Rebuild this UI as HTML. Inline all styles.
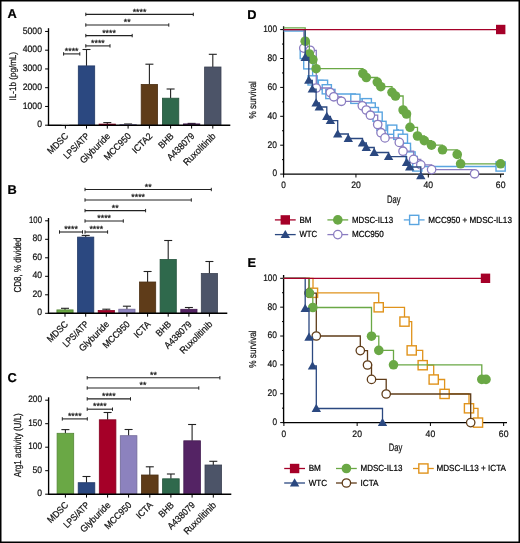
<!DOCTYPE html>
<html><head><meta charset="utf-8"><style>
html,body{margin:0;padding:0;background:#fff;}
svg{display:block;will-change:transform;}
text{font-family:"Liberation Sans", sans-serif;text-rendering:geometricPrecision;stroke:currentColor;stroke-width:0.22px;}
</style></head><body>
<svg width="520" height="543" viewBox="0 0 520 543" font-family='"Liberation Sans", sans-serif'>
<rect x="0.00" y="0.00" width="520.00" height="543.00" fill="#fff" stroke="none" stroke-width="0"/>
<line x1="45.10" y1="125.20" x2="48.50" y2="125.20" stroke="#000" stroke-width="1.0"/>
<text x="42.00" y="127.35" font-size="9.4" text-anchor="end" font-weight="normal" fill="#111" color="#111" textLength="4.8" lengthAdjust="spacingAndGlyphs" >0</text>
<line x1="45.10" y1="106.45" x2="48.50" y2="106.45" stroke="#000" stroke-width="1.0"/>
<text x="42.00" y="108.60" font-size="9.4" text-anchor="end" font-weight="normal" fill="#111" color="#111" textLength="19.3" lengthAdjust="spacingAndGlyphs" >1000</text>
<line x1="45.10" y1="87.70" x2="48.50" y2="87.70" stroke="#000" stroke-width="1.0"/>
<text x="42.00" y="89.85" font-size="9.4" text-anchor="end" font-weight="normal" fill="#111" color="#111" textLength="19.3" lengthAdjust="spacingAndGlyphs" >2000</text>
<line x1="45.10" y1="68.95" x2="48.50" y2="68.95" stroke="#000" stroke-width="1.0"/>
<text x="42.00" y="71.10" font-size="9.4" text-anchor="end" font-weight="normal" fill="#111" color="#111" textLength="19.3" lengthAdjust="spacingAndGlyphs" >3000</text>
<line x1="45.10" y1="50.20" x2="48.50" y2="50.20" stroke="#000" stroke-width="1.0"/>
<text x="42.00" y="52.35" font-size="9.4" text-anchor="end" font-weight="normal" fill="#111" color="#111" textLength="19.3" lengthAdjust="spacingAndGlyphs" >4000</text>
<line x1="45.10" y1="31.45" x2="48.50" y2="31.45" stroke="#000" stroke-width="1.0"/>
<text x="42.00" y="33.60" font-size="9.4" text-anchor="end" font-weight="normal" fill="#111" color="#111" textLength="19.3" lengthAdjust="spacingAndGlyphs" >5000</text>
<line x1="65.40" y1="125.20" x2="65.40" y2="128.60" stroke="#000" stroke-width="1.0"/>
<text x="69.00" y="136.70" font-size="9.4" text-anchor="end" font-weight="normal" fill="#111" color="#111" transform="rotate(-45 69.00 136.70)" textLength="25.3" lengthAdjust="spacingAndGlyphs" >MDSC</text>
<line x1="86.50" y1="49.50" x2="86.50" y2="65.90" stroke="#222" stroke-width="1.1"/>
<line x1="82.50" y1="49.50" x2="90.50" y2="49.50" stroke="#222" stroke-width="1.1"/>
<rect x="78.30" y="65.90" width="16.40" height="58.90" fill="#2b4880" stroke="#223966" stroke-width="0.8"/>
<line x1="86.50" y1="125.20" x2="86.50" y2="128.60" stroke="#000" stroke-width="1.0"/>
<text x="90.10" y="136.70" font-size="9.4" text-anchor="end" font-weight="normal" fill="#111" color="#111" transform="rotate(-45 90.10 136.70)" textLength="32.3" lengthAdjust="spacingAndGlyphs" >LPS/ATP</text>
<line x1="107.30" y1="122.60" x2="107.30" y2="124.10" stroke="#222" stroke-width="1.1"/>
<line x1="103.30" y1="122.60" x2="111.30" y2="122.60" stroke="#222" stroke-width="1.1"/>
<rect x="99.10" y="124.10" width="16.40" height="0.70" fill="#a50028" stroke="#840020" stroke-width="0.8"/>
<line x1="107.30" y1="125.20" x2="107.30" y2="128.60" stroke="#000" stroke-width="1.0"/>
<text x="110.90" y="136.70" font-size="9.4" text-anchor="end" font-weight="normal" fill="#111" color="#111" transform="rotate(-45 110.90 136.70)" textLength="38.5" lengthAdjust="spacingAndGlyphs" >Glyburide</text>
<line x1="128.10" y1="124.00" x2="128.10" y2="124.60" stroke="#222" stroke-width="1.1"/>
<line x1="124.10" y1="124.00" x2="132.10" y2="124.00" stroke="#222" stroke-width="1.1"/>
<rect x="119.90" y="124.60" width="16.40" height="0.20" fill="#8c82be" stroke="#706898" stroke-width="0.8"/>
<line x1="128.10" y1="125.20" x2="128.10" y2="128.60" stroke="#000" stroke-width="1.0"/>
<text x="131.70" y="136.70" font-size="9.4" text-anchor="end" font-weight="normal" fill="#111" color="#111" transform="rotate(-45 131.70 136.70)" textLength="34.0" lengthAdjust="spacingAndGlyphs" >MCC950</text>
<line x1="149.40" y1="64.20" x2="149.40" y2="84.40" stroke="#222" stroke-width="1.1"/>
<line x1="145.40" y1="64.20" x2="153.40" y2="64.20" stroke="#222" stroke-width="1.1"/>
<rect x="141.20" y="84.40" width="16.40" height="40.40" fill="#5f3c19" stroke="#4c3014" stroke-width="0.8"/>
<line x1="149.40" y1="125.20" x2="149.40" y2="128.60" stroke="#000" stroke-width="1.0"/>
<text x="153.00" y="136.70" font-size="9.4" text-anchor="end" font-weight="normal" fill="#111" color="#111" transform="rotate(-45 153.00 136.70)" textLength="24.3" lengthAdjust="spacingAndGlyphs" >ICTA2</text>
<line x1="170.60" y1="89.00" x2="170.60" y2="98.20" stroke="#222" stroke-width="1.1"/>
<line x1="166.60" y1="89.00" x2="174.60" y2="89.00" stroke="#222" stroke-width="1.1"/>
<rect x="162.40" y="98.20" width="16.40" height="26.60" fill="#2f694c" stroke="#25543c" stroke-width="0.8"/>
<line x1="170.60" y1="125.20" x2="170.60" y2="128.60" stroke="#000" stroke-width="1.0"/>
<text x="174.20" y="136.70" font-size="9.4" text-anchor="end" font-weight="normal" fill="#111" color="#111" transform="rotate(-45 174.20 136.70)" textLength="17.3" lengthAdjust="spacingAndGlyphs" >BHB</text>
<line x1="191.60" y1="123.40" x2="191.60" y2="123.90" stroke="#222" stroke-width="1.1"/>
<line x1="187.60" y1="123.40" x2="195.60" y2="123.40" stroke="#222" stroke-width="1.1"/>
<rect x="183.40" y="123.90" width="16.40" height="0.90" fill="#542364" stroke="#431c50" stroke-width="0.8"/>
<line x1="191.60" y1="125.20" x2="191.60" y2="128.60" stroke="#000" stroke-width="1.0"/>
<text x="195.20" y="136.70" font-size="9.4" text-anchor="end" font-weight="normal" fill="#111" color="#111" transform="rotate(-45 195.20 136.70)" textLength="34.5" lengthAdjust="spacingAndGlyphs" >A438079</text>
<line x1="212.80" y1="54.30" x2="212.80" y2="67.00" stroke="#222" stroke-width="1.1"/>
<line x1="208.80" y1="54.30" x2="216.80" y2="54.30" stroke="#222" stroke-width="1.1"/>
<rect x="204.60" y="67.00" width="16.40" height="57.80" fill="#4c5468" stroke="#3c4353" stroke-width="0.8"/>
<line x1="212.80" y1="125.20" x2="212.80" y2="128.60" stroke="#000" stroke-width="1.0"/>
<text x="216.40" y="136.70" font-size="9.4" text-anchor="end" font-weight="normal" fill="#111" color="#111" transform="rotate(-45 216.40 136.70)" textLength="41.6" lengthAdjust="spacingAndGlyphs" >Ruxolitinib</text>
<line x1="48.50" y1="28.20" x2="48.50" y2="125.80" stroke="#000" stroke-width="1.35"/>
<line x1="47.90" y1="125.20" x2="230.30" y2="125.20" stroke="#000" stroke-width="1.45"/>
<line x1="85.80" y1="14.40" x2="193.30" y2="14.40" stroke="#222" stroke-width="1.1"/>
<line x1="85.80" y1="12.70" x2="85.80" y2="16.10" stroke="#222" stroke-width="1.0"/>
<line x1="193.30" y1="12.70" x2="193.30" y2="16.10" stroke="#222" stroke-width="1.0"/>
<text x="139.55" y="14.50" font-size="8.8" text-anchor="middle" font-weight="normal" fill="#111" color="#111" >****</text>
<line x1="85.80" y1="25.00" x2="168.80" y2="25.00" stroke="#222" stroke-width="1.1"/>
<line x1="85.80" y1="23.30" x2="85.80" y2="26.70" stroke="#222" stroke-width="1.0"/>
<line x1="168.80" y1="23.30" x2="168.80" y2="26.70" stroke="#222" stroke-width="1.0"/>
<text x="127.30" y="25.10" font-size="8.8" text-anchor="middle" font-weight="normal" fill="#111" color="#111" >**</text>
<line x1="85.80" y1="35.60" x2="132.20" y2="35.60" stroke="#222" stroke-width="1.1"/>
<line x1="85.80" y1="33.90" x2="85.80" y2="37.30" stroke="#222" stroke-width="1.0"/>
<line x1="132.20" y1="33.90" x2="132.20" y2="37.30" stroke="#222" stroke-width="1.0"/>
<text x="109.00" y="35.70" font-size="8.8" text-anchor="middle" font-weight="normal" fill="#111" color="#111" >****</text>
<line x1="85.80" y1="45.90" x2="110.00" y2="45.90" stroke="#222" stroke-width="1.1"/>
<line x1="85.80" y1="44.20" x2="85.80" y2="47.60" stroke="#222" stroke-width="1.0"/>
<line x1="110.00" y1="44.20" x2="110.00" y2="47.60" stroke="#222" stroke-width="1.0"/>
<text x="97.90" y="46.00" font-size="8.8" text-anchor="middle" font-weight="normal" fill="#111" color="#111" >****</text>
<line x1="63.60" y1="53.90" x2="79.80" y2="53.90" stroke="#222" stroke-width="1.1"/>
<line x1="63.60" y1="52.20" x2="63.60" y2="55.60" stroke="#222" stroke-width="1.0"/>
<line x1="79.80" y1="52.20" x2="79.80" y2="55.60" stroke="#222" stroke-width="1.0"/>
<text x="71.70" y="54.00" font-size="8.8" text-anchor="middle" font-weight="normal" fill="#111" color="#111" >****</text>
<text x="16.20" y="76.20" font-size="9.6" text-anchor="middle" font-weight="normal" fill="#111" color="#111" transform="rotate(-90 16.20 76.20)" textLength="48.5" lengthAdjust="spacingAndGlyphs" >IL-1b (pg/mL)</text>
<text x="7.60" y="18.40" font-size="12.8" text-anchor="start" font-weight="bold" fill="#000" color="#000" >A</text>
<line x1="45.10" y1="313.30" x2="48.50" y2="313.30" stroke="#000" stroke-width="1.0"/>
<text x="42.00" y="315.45" font-size="9.4" text-anchor="end" font-weight="normal" fill="#111" color="#111" textLength="4.8" lengthAdjust="spacingAndGlyphs" >0</text>
<line x1="45.10" y1="294.80" x2="48.50" y2="294.80" stroke="#000" stroke-width="1.0"/>
<text x="42.00" y="296.95" font-size="9.4" text-anchor="end" font-weight="normal" fill="#111" color="#111" textLength="9.6" lengthAdjust="spacingAndGlyphs" >20</text>
<line x1="45.10" y1="276.30" x2="48.50" y2="276.30" stroke="#000" stroke-width="1.0"/>
<text x="42.00" y="278.45" font-size="9.4" text-anchor="end" font-weight="normal" fill="#111" color="#111" textLength="9.6" lengthAdjust="spacingAndGlyphs" >40</text>
<line x1="45.10" y1="257.80" x2="48.50" y2="257.80" stroke="#000" stroke-width="1.0"/>
<text x="42.00" y="259.95" font-size="9.4" text-anchor="end" font-weight="normal" fill="#111" color="#111" textLength="9.6" lengthAdjust="spacingAndGlyphs" >60</text>
<line x1="45.10" y1="239.30" x2="48.50" y2="239.30" stroke="#000" stroke-width="1.0"/>
<text x="42.00" y="241.45" font-size="9.4" text-anchor="end" font-weight="normal" fill="#111" color="#111" textLength="9.6" lengthAdjust="spacingAndGlyphs" >80</text>
<line x1="45.10" y1="220.80" x2="48.50" y2="220.80" stroke="#000" stroke-width="1.0"/>
<text x="42.00" y="222.95" font-size="9.4" text-anchor="end" font-weight="normal" fill="#111" color="#111" textLength="13.0" lengthAdjust="spacingAndGlyphs" >100</text>
<line x1="65.00" y1="308.30" x2="65.00" y2="309.90" stroke="#222" stroke-width="1.1"/>
<line x1="61.00" y1="308.30" x2="69.00" y2="308.30" stroke="#222" stroke-width="1.1"/>
<rect x="56.90" y="309.90" width="16.20" height="3.00" fill="#6aa845" stroke="#548637" stroke-width="0.8"/>
<line x1="65.00" y1="313.30" x2="65.00" y2="316.70" stroke="#000" stroke-width="1.0"/>
<text x="68.60" y="324.80" font-size="9.4" text-anchor="end" font-weight="normal" fill="#111" color="#111" transform="rotate(-45 68.60 324.80)" textLength="25.3" lengthAdjust="spacingAndGlyphs" >MDSC</text>
<line x1="85.70" y1="235.40" x2="85.70" y2="237.10" stroke="#222" stroke-width="1.1"/>
<line x1="81.70" y1="235.40" x2="89.70" y2="235.40" stroke="#222" stroke-width="1.1"/>
<rect x="77.60" y="237.10" width="16.20" height="75.80" fill="#2b4880" stroke="#223966" stroke-width="0.8"/>
<line x1="85.70" y1="313.30" x2="85.70" y2="316.70" stroke="#000" stroke-width="1.0"/>
<text x="89.30" y="324.80" font-size="9.4" text-anchor="end" font-weight="normal" fill="#111" color="#111" transform="rotate(-45 89.30 324.80)" textLength="32.3" lengthAdjust="spacingAndGlyphs" >LPS/ATP</text>
<line x1="106.30" y1="309.20" x2="106.30" y2="310.50" stroke="#222" stroke-width="1.1"/>
<line x1="102.30" y1="309.20" x2="110.30" y2="309.20" stroke="#222" stroke-width="1.1"/>
<rect x="98.20" y="310.50" width="16.20" height="2.40" fill="#a50028" stroke="#840020" stroke-width="0.8"/>
<line x1="106.30" y1="313.30" x2="106.30" y2="316.70" stroke="#000" stroke-width="1.0"/>
<text x="109.90" y="324.80" font-size="9.4" text-anchor="end" font-weight="normal" fill="#111" color="#111" transform="rotate(-45 109.90 324.80)" textLength="38.5" lengthAdjust="spacingAndGlyphs" >Glyburide</text>
<line x1="126.90" y1="306.20" x2="126.90" y2="309.20" stroke="#222" stroke-width="1.1"/>
<line x1="122.90" y1="306.20" x2="130.90" y2="306.20" stroke="#222" stroke-width="1.1"/>
<rect x="118.80" y="309.20" width="16.20" height="3.70" fill="#8c82be" stroke="#706898" stroke-width="0.8"/>
<line x1="126.90" y1="313.30" x2="126.90" y2="316.70" stroke="#000" stroke-width="1.0"/>
<text x="130.50" y="324.80" font-size="9.4" text-anchor="end" font-weight="normal" fill="#111" color="#111" transform="rotate(-45 130.50 324.80)" textLength="34.0" lengthAdjust="spacingAndGlyphs" >MCC950</text>
<line x1="147.60" y1="271.50" x2="147.60" y2="282.00" stroke="#222" stroke-width="1.1"/>
<line x1="143.60" y1="271.50" x2="151.60" y2="271.50" stroke="#222" stroke-width="1.1"/>
<rect x="139.50" y="282.00" width="16.20" height="30.90" fill="#5f3c19" stroke="#4c3014" stroke-width="0.8"/>
<line x1="147.60" y1="313.30" x2="147.60" y2="316.70" stroke="#000" stroke-width="1.0"/>
<text x="151.20" y="324.80" font-size="9.4" text-anchor="end" font-weight="normal" fill="#111" color="#111" transform="rotate(-45 151.20 324.80)" textLength="19.3" lengthAdjust="spacingAndGlyphs" >ICTA</text>
<line x1="168.20" y1="240.50" x2="168.20" y2="259.50" stroke="#222" stroke-width="1.1"/>
<line x1="164.20" y1="240.50" x2="172.20" y2="240.50" stroke="#222" stroke-width="1.1"/>
<rect x="160.10" y="259.50" width="16.20" height="53.40" fill="#2f694c" stroke="#25543c" stroke-width="0.8"/>
<line x1="168.20" y1="313.30" x2="168.20" y2="316.70" stroke="#000" stroke-width="1.0"/>
<text x="171.80" y="324.80" font-size="9.4" text-anchor="end" font-weight="normal" fill="#111" color="#111" transform="rotate(-45 171.80 324.80)" textLength="17.3" lengthAdjust="spacingAndGlyphs" >BHB</text>
<line x1="188.90" y1="307.50" x2="188.90" y2="309.30" stroke="#222" stroke-width="1.1"/>
<line x1="184.90" y1="307.50" x2="192.90" y2="307.50" stroke="#222" stroke-width="1.1"/>
<rect x="180.80" y="309.30" width="16.20" height="3.60" fill="#542364" stroke="#431c50" stroke-width="0.8"/>
<line x1="188.90" y1="313.30" x2="188.90" y2="316.70" stroke="#000" stroke-width="1.0"/>
<text x="192.50" y="324.80" font-size="9.4" text-anchor="end" font-weight="normal" fill="#111" color="#111" transform="rotate(-45 192.50 324.80)" textLength="34.5" lengthAdjust="spacingAndGlyphs" >A438079</text>
<line x1="209.40" y1="261.50" x2="209.40" y2="273.50" stroke="#222" stroke-width="1.1"/>
<line x1="205.40" y1="261.50" x2="213.40" y2="261.50" stroke="#222" stroke-width="1.1"/>
<rect x="201.30" y="273.50" width="16.20" height="39.40" fill="#4c5468" stroke="#3c4353" stroke-width="0.8"/>
<line x1="209.40" y1="313.30" x2="209.40" y2="316.70" stroke="#000" stroke-width="1.0"/>
<text x="213.00" y="324.80" font-size="9.4" text-anchor="end" font-weight="normal" fill="#111" color="#111" transform="rotate(-45 213.00 324.80)" textLength="41.6" lengthAdjust="spacingAndGlyphs" >Ruxolitinib</text>
<line x1="48.50" y1="218.00" x2="48.50" y2="313.90" stroke="#000" stroke-width="1.35"/>
<line x1="47.90" y1="313.30" x2="227.30" y2="313.30" stroke="#000" stroke-width="1.45"/>
<line x1="85.00" y1="189.50" x2="211.30" y2="189.50" stroke="#222" stroke-width="1.1"/>
<line x1="85.00" y1="187.80" x2="85.00" y2="191.20" stroke="#222" stroke-width="1.0"/>
<line x1="211.30" y1="187.80" x2="211.30" y2="191.20" stroke="#222" stroke-width="1.0"/>
<text x="148.15" y="189.60" font-size="8.8" text-anchor="middle" font-weight="normal" fill="#111" color="#111" >**</text>
<line x1="85.00" y1="200.00" x2="191.30" y2="200.00" stroke="#222" stroke-width="1.1"/>
<line x1="85.00" y1="198.30" x2="85.00" y2="201.70" stroke="#222" stroke-width="1.0"/>
<line x1="191.30" y1="198.30" x2="191.30" y2="201.70" stroke="#222" stroke-width="1.0"/>
<text x="138.15" y="200.10" font-size="8.8" text-anchor="middle" font-weight="normal" fill="#111" color="#111" >****</text>
<line x1="85.00" y1="210.60" x2="145.60" y2="210.60" stroke="#222" stroke-width="1.1"/>
<line x1="85.00" y1="208.90" x2="85.00" y2="212.30" stroke="#222" stroke-width="1.0"/>
<line x1="145.60" y1="208.90" x2="145.60" y2="212.30" stroke="#222" stroke-width="1.0"/>
<text x="115.30" y="210.70" font-size="8.8" text-anchor="middle" font-weight="normal" fill="#111" color="#111" >**</text>
<line x1="85.00" y1="221.00" x2="123.30" y2="221.00" stroke="#222" stroke-width="1.1"/>
<line x1="85.00" y1="219.30" x2="85.00" y2="222.70" stroke="#222" stroke-width="1.0"/>
<line x1="123.30" y1="219.30" x2="123.30" y2="222.70" stroke="#222" stroke-width="1.0"/>
<text x="104.15" y="221.10" font-size="8.8" text-anchor="middle" font-weight="normal" fill="#111" color="#111" >****</text>
<line x1="59.50" y1="232.00" x2="82.50" y2="232.00" stroke="#222" stroke-width="1.1"/>
<line x1="59.50" y1="230.30" x2="59.50" y2="233.70" stroke="#222" stroke-width="1.0"/>
<line x1="82.50" y1="230.30" x2="82.50" y2="233.70" stroke="#222" stroke-width="1.0"/>
<text x="71.00" y="232.10" font-size="8.8" text-anchor="middle" font-weight="normal" fill="#111" color="#111" >****</text>
<line x1="85.00" y1="232.00" x2="107.60" y2="232.00" stroke="#222" stroke-width="1.1"/>
<line x1="85.00" y1="230.30" x2="85.00" y2="233.70" stroke="#222" stroke-width="1.0"/>
<line x1="107.60" y1="230.30" x2="107.60" y2="233.70" stroke="#222" stroke-width="1.0"/>
<text x="96.30" y="232.10" font-size="8.8" text-anchor="middle" font-weight="normal" fill="#111" color="#111" >****</text>
<text x="20.70" y="265.00" font-size="10.1" text-anchor="middle" font-weight="normal" fill="#111" color="#111" transform="rotate(-90 20.70 265.00)" textLength="55.0" lengthAdjust="spacingAndGlyphs" >CD8, % divided</text>
<text x="7.60" y="193.50" font-size="12.8" text-anchor="start" font-weight="bold" fill="#000" color="#000" >B</text>
<line x1="45.20" y1="494.20" x2="48.60" y2="494.20" stroke="#000" stroke-width="1.0"/>
<text x="42.00" y="496.35" font-size="9.4" text-anchor="end" font-weight="normal" fill="#111" color="#111" textLength="4.8" lengthAdjust="spacingAndGlyphs" >0</text>
<line x1="45.20" y1="470.70" x2="48.60" y2="470.70" stroke="#000" stroke-width="1.0"/>
<text x="42.00" y="472.85" font-size="9.4" text-anchor="end" font-weight="normal" fill="#111" color="#111" textLength="9.6" lengthAdjust="spacingAndGlyphs" >50</text>
<line x1="45.20" y1="447.20" x2="48.60" y2="447.20" stroke="#000" stroke-width="1.0"/>
<text x="42.00" y="449.35" font-size="9.4" text-anchor="end" font-weight="normal" fill="#111" color="#111" textLength="13.8" lengthAdjust="spacingAndGlyphs" >100</text>
<line x1="45.20" y1="423.70" x2="48.60" y2="423.70" stroke="#000" stroke-width="1.0"/>
<text x="42.00" y="425.85" font-size="9.4" text-anchor="end" font-weight="normal" fill="#111" color="#111" textLength="13.8" lengthAdjust="spacingAndGlyphs" >150</text>
<line x1="45.20" y1="400.20" x2="48.60" y2="400.20" stroke="#000" stroke-width="1.0"/>
<text x="42.00" y="402.35" font-size="9.4" text-anchor="end" font-weight="normal" fill="#111" color="#111" textLength="13.8" lengthAdjust="spacingAndGlyphs" >200</text>
<line x1="65.40" y1="429.60" x2="65.40" y2="433.30" stroke="#222" stroke-width="1.1"/>
<line x1="61.40" y1="429.60" x2="69.40" y2="429.60" stroke="#222" stroke-width="1.1"/>
<rect x="57.10" y="433.30" width="16.60" height="60.50" fill="#6aa845" stroke="#548637" stroke-width="0.8"/>
<line x1="65.40" y1="494.20" x2="65.40" y2="497.60" stroke="#000" stroke-width="1.0"/>
<text x="69.00" y="505.70" font-size="9.4" text-anchor="end" font-weight="normal" fill="#111" color="#111" transform="rotate(-45 69.00 505.70)" textLength="25.3" lengthAdjust="spacingAndGlyphs" >MDSC</text>
<line x1="86.50" y1="476.50" x2="86.50" y2="482.70" stroke="#222" stroke-width="1.1"/>
<line x1="82.50" y1="476.50" x2="90.50" y2="476.50" stroke="#222" stroke-width="1.1"/>
<rect x="78.20" y="482.70" width="16.60" height="11.10" fill="#2b4880" stroke="#223966" stroke-width="0.8"/>
<line x1="86.50" y1="494.20" x2="86.50" y2="497.60" stroke="#000" stroke-width="1.0"/>
<text x="90.10" y="505.70" font-size="9.4" text-anchor="end" font-weight="normal" fill="#111" color="#111" transform="rotate(-45 90.10 505.70)" textLength="32.3" lengthAdjust="spacingAndGlyphs" >LPS/ATP</text>
<line x1="107.60" y1="412.50" x2="107.60" y2="419.80" stroke="#222" stroke-width="1.1"/>
<line x1="103.60" y1="412.50" x2="111.60" y2="412.50" stroke="#222" stroke-width="1.1"/>
<rect x="99.30" y="419.80" width="16.60" height="74.00" fill="#a50028" stroke="#840020" stroke-width="0.8"/>
<line x1="107.60" y1="494.20" x2="107.60" y2="497.60" stroke="#000" stroke-width="1.0"/>
<text x="111.20" y="505.70" font-size="9.4" text-anchor="end" font-weight="normal" fill="#111" color="#111" transform="rotate(-45 111.20 505.70)" textLength="38.5" lengthAdjust="spacingAndGlyphs" >Glyburide</text>
<line x1="128.60" y1="429.50" x2="128.60" y2="435.70" stroke="#222" stroke-width="1.1"/>
<line x1="124.60" y1="429.50" x2="132.60" y2="429.50" stroke="#222" stroke-width="1.1"/>
<rect x="120.30" y="435.70" width="16.60" height="58.10" fill="#8c82be" stroke="#706898" stroke-width="0.8"/>
<line x1="128.60" y1="494.20" x2="128.60" y2="497.60" stroke="#000" stroke-width="1.0"/>
<text x="132.20" y="505.70" font-size="9.4" text-anchor="end" font-weight="normal" fill="#111" color="#111" transform="rotate(-45 132.20 505.70)" textLength="34.0" lengthAdjust="spacingAndGlyphs" >MCC950</text>
<line x1="149.80" y1="466.80" x2="149.80" y2="475.00" stroke="#222" stroke-width="1.1"/>
<line x1="145.80" y1="466.80" x2="153.80" y2="466.80" stroke="#222" stroke-width="1.1"/>
<rect x="141.50" y="475.00" width="16.60" height="18.80" fill="#5f3c19" stroke="#4c3014" stroke-width="0.8"/>
<line x1="149.80" y1="494.20" x2="149.80" y2="497.60" stroke="#000" stroke-width="1.0"/>
<text x="153.40" y="505.70" font-size="9.4" text-anchor="end" font-weight="normal" fill="#111" color="#111" transform="rotate(-45 153.40 505.70)" textLength="19.3" lengthAdjust="spacingAndGlyphs" >ICTA</text>
<line x1="170.90" y1="474.00" x2="170.90" y2="478.80" stroke="#222" stroke-width="1.1"/>
<line x1="166.90" y1="474.00" x2="174.90" y2="474.00" stroke="#222" stroke-width="1.1"/>
<rect x="162.60" y="478.80" width="16.60" height="15.00" fill="#2f694c" stroke="#25543c" stroke-width="0.8"/>
<line x1="170.90" y1="494.20" x2="170.90" y2="497.60" stroke="#000" stroke-width="1.0"/>
<text x="174.50" y="505.70" font-size="9.4" text-anchor="end" font-weight="normal" fill="#111" color="#111" transform="rotate(-45 174.50 505.70)" textLength="17.3" lengthAdjust="spacingAndGlyphs" >BHB</text>
<line x1="192.10" y1="424.50" x2="192.10" y2="440.80" stroke="#222" stroke-width="1.1"/>
<line x1="188.10" y1="424.50" x2="196.10" y2="424.50" stroke="#222" stroke-width="1.1"/>
<rect x="183.80" y="440.80" width="16.60" height="53.00" fill="#542364" stroke="#431c50" stroke-width="0.8"/>
<line x1="192.10" y1="494.20" x2="192.10" y2="497.60" stroke="#000" stroke-width="1.0"/>
<text x="195.70" y="505.70" font-size="9.4" text-anchor="end" font-weight="normal" fill="#111" color="#111" transform="rotate(-45 195.70 505.70)" textLength="34.5" lengthAdjust="spacingAndGlyphs" >A438079</text>
<line x1="213.30" y1="461.30" x2="213.30" y2="465.00" stroke="#222" stroke-width="1.1"/>
<line x1="209.30" y1="461.30" x2="217.30" y2="461.30" stroke="#222" stroke-width="1.1"/>
<rect x="205.00" y="465.00" width="16.60" height="28.80" fill="#4c5468" stroke="#3c4353" stroke-width="0.8"/>
<line x1="213.30" y1="494.20" x2="213.30" y2="497.60" stroke="#000" stroke-width="1.0"/>
<text x="216.90" y="505.70" font-size="9.4" text-anchor="end" font-weight="normal" fill="#111" color="#111" transform="rotate(-45 216.90 505.70)" textLength="41.6" lengthAdjust="spacingAndGlyphs" >Ruxolitinib</text>
<line x1="48.60" y1="397.30" x2="48.60" y2="494.80" stroke="#000" stroke-width="1.35"/>
<line x1="48.00" y1="494.20" x2="231.30" y2="494.20" stroke="#000" stroke-width="1.45"/>
<line x1="87.20" y1="377.80" x2="219.90" y2="377.80" stroke="#222" stroke-width="1.1"/>
<line x1="87.20" y1="376.10" x2="87.20" y2="379.50" stroke="#222" stroke-width="1.0"/>
<line x1="219.90" y1="376.10" x2="219.90" y2="379.50" stroke="#222" stroke-width="1.0"/>
<text x="153.55" y="377.90" font-size="8.8" text-anchor="middle" font-weight="normal" fill="#111" color="#111" >**</text>
<line x1="87.20" y1="388.00" x2="198.80" y2="388.00" stroke="#222" stroke-width="1.1"/>
<line x1="87.20" y1="386.30" x2="87.20" y2="389.70" stroke="#222" stroke-width="1.0"/>
<line x1="198.80" y1="386.30" x2="198.80" y2="389.70" stroke="#222" stroke-width="1.0"/>
<text x="143.00" y="388.10" font-size="8.8" text-anchor="middle" font-weight="normal" fill="#111" color="#111" >**</text>
<line x1="87.20" y1="398.90" x2="130.50" y2="398.90" stroke="#222" stroke-width="1.1"/>
<line x1="87.20" y1="397.20" x2="87.20" y2="400.60" stroke="#222" stroke-width="1.0"/>
<line x1="130.50" y1="397.20" x2="130.50" y2="400.60" stroke="#222" stroke-width="1.0"/>
<text x="108.85" y="399.00" font-size="8.8" text-anchor="middle" font-weight="normal" fill="#111" color="#111" >****</text>
<line x1="87.20" y1="409.20" x2="112.50" y2="409.20" stroke="#222" stroke-width="1.1"/>
<line x1="87.20" y1="407.50" x2="87.20" y2="410.90" stroke="#222" stroke-width="1.0"/>
<line x1="112.50" y1="407.50" x2="112.50" y2="410.90" stroke="#222" stroke-width="1.0"/>
<text x="99.85" y="409.30" font-size="8.8" text-anchor="middle" font-weight="normal" fill="#111" color="#111" >****</text>
<line x1="62.30" y1="418.90" x2="87.30" y2="418.90" stroke="#222" stroke-width="1.1"/>
<line x1="62.30" y1="417.20" x2="62.30" y2="420.60" stroke="#222" stroke-width="1.0"/>
<line x1="87.30" y1="417.20" x2="87.30" y2="420.60" stroke="#222" stroke-width="1.0"/>
<text x="74.80" y="419.00" font-size="8.8" text-anchor="middle" font-weight="normal" fill="#111" color="#111" >****</text>
<text x="21.00" y="445.20" font-size="10.1" text-anchor="middle" font-weight="normal" fill="#111" color="#111" transform="rotate(-90 21.00 445.20)" textLength="64.0" lengthAdjust="spacingAndGlyphs" >Arg1 activity (U/L)</text>
<text x="7.40" y="381.70" font-size="12.8" text-anchor="start" font-weight="bold" fill="#000" color="#000" >C</text>
<line x1="61.50" y1="124.30" x2="69.30" y2="124.30" stroke="#bbb" stroke-width="0.8"/>
<line x1="283.60" y1="26.30" x2="283.60" y2="174.70" stroke="#000" stroke-width="1.35"/>
<line x1="283.00" y1="174.10" x2="504.00" y2="174.10" stroke="#000" stroke-width="1.45"/>
<line x1="280.20" y1="174.10" x2="283.60" y2="174.10" stroke="#000" stroke-width="1.0"/>
<text x="277.00" y="176.45" font-size="9.5" text-anchor="end" font-weight="normal" fill="#111" color="#111" textLength="4.6" lengthAdjust="spacingAndGlyphs" >0</text>
<line x1="282.00" y1="159.65" x2="283.60" y2="159.65" stroke="#000" stroke-width="1.0"/>
<line x1="280.20" y1="145.20" x2="283.60" y2="145.20" stroke="#000" stroke-width="1.0"/>
<text x="277.00" y="147.55" font-size="9.5" text-anchor="end" font-weight="normal" fill="#111" color="#111" textLength="9.4" lengthAdjust="spacingAndGlyphs" >20</text>
<line x1="282.00" y1="130.75" x2="283.60" y2="130.75" stroke="#000" stroke-width="1.0"/>
<line x1="280.20" y1="116.30" x2="283.60" y2="116.30" stroke="#000" stroke-width="1.0"/>
<text x="277.00" y="118.65" font-size="9.5" text-anchor="end" font-weight="normal" fill="#111" color="#111" textLength="9.4" lengthAdjust="spacingAndGlyphs" >40</text>
<line x1="282.00" y1="101.85" x2="283.60" y2="101.85" stroke="#000" stroke-width="1.0"/>
<line x1="280.20" y1="87.40" x2="283.60" y2="87.40" stroke="#000" stroke-width="1.0"/>
<text x="277.00" y="89.75" font-size="9.5" text-anchor="end" font-weight="normal" fill="#111" color="#111" textLength="9.4" lengthAdjust="spacingAndGlyphs" >60</text>
<line x1="282.00" y1="72.95" x2="283.60" y2="72.95" stroke="#000" stroke-width="1.0"/>
<line x1="280.20" y1="58.50" x2="283.60" y2="58.50" stroke="#000" stroke-width="1.0"/>
<text x="277.00" y="60.85" font-size="9.5" text-anchor="end" font-weight="normal" fill="#111" color="#111" textLength="9.4" lengthAdjust="spacingAndGlyphs" >80</text>
<line x1="282.00" y1="44.05" x2="283.60" y2="44.05" stroke="#000" stroke-width="1.0"/>
<line x1="280.20" y1="29.60" x2="283.60" y2="29.60" stroke="#000" stroke-width="1.0"/>
<text x="277.00" y="31.95" font-size="9.5" text-anchor="end" font-weight="normal" fill="#111" color="#111" textLength="13.8" lengthAdjust="spacingAndGlyphs" >100</text>
<line x1="283.60" y1="174.10" x2="283.60" y2="177.50" stroke="#000" stroke-width="1.0"/>
<text x="283.60" y="188.20" font-size="9.4" text-anchor="middle" font-weight="normal" fill="#111" color="#111" textLength="4.6" lengthAdjust="spacingAndGlyphs" >0</text>
<line x1="355.95" y1="174.10" x2="355.95" y2="177.50" stroke="#000" stroke-width="1.0"/>
<text x="355.95" y="188.20" font-size="9.4" text-anchor="middle" font-weight="normal" fill="#111" color="#111" textLength="9.6" lengthAdjust="spacingAndGlyphs" >20</text>
<line x1="428.30" y1="174.10" x2="428.30" y2="177.50" stroke="#000" stroke-width="1.0"/>
<text x="428.30" y="188.20" font-size="9.4" text-anchor="middle" font-weight="normal" fill="#111" color="#111" textLength="9.6" lengthAdjust="spacingAndGlyphs" >40</text>
<line x1="500.65" y1="174.10" x2="500.65" y2="177.50" stroke="#000" stroke-width="1.0"/>
<text x="500.65" y="188.20" font-size="9.4" text-anchor="middle" font-weight="normal" fill="#111" color="#111" textLength="9.6" lengthAdjust="spacingAndGlyphs" >60</text>
<text x="393.80" y="202.50" font-size="10.8" text-anchor="middle" font-weight="normal" fill="#111" color="#111" textLength="13.6" lengthAdjust="spacingAndGlyphs" >Day</text>
<text x="256.00" y="99.80" font-size="10.0" text-anchor="middle" font-weight="normal" fill="#111" color="#111" transform="rotate(-90 256.00 99.80)" textLength="37.4" lengthAdjust="spacingAndGlyphs" >% survival</text>
<text x="247.20" y="18.50" font-size="12.8" text-anchor="start" font-weight="bold" fill="#000" color="#000" >D</text>
<path d="M283.60,31.10 H304.80 V54.00 H308.30 V64.30 H312.60 V80.40 H323.00 V84.80 H326.80 V89.30 H330.40 V94.00 H355.40 V98.80 H366.80 V103.20 H370.70 V107.50 H373.80 V112.10 H377.60 V116.70 H381.50 V125.90 H392.20 V129.70 H398.30 V134.80 H402.90 V138.80 H405.90 V147.90 H410.50 V156.50 H417.30 V166.50 H500.60" fill="none" stroke="#5aa5e0" stroke-width="1.3"/>
<rect x="300.20" y="49.40" width="9.20" height="9.20" fill="#fff" stroke="#5aa5e0" stroke-width="1.4"/>
<rect x="303.70" y="59.70" width="9.20" height="9.20" fill="#fff" stroke="#5aa5e0" stroke-width="1.4"/>
<rect x="308.00" y="75.80" width="9.20" height="9.20" fill="#fff" stroke="#5aa5e0" stroke-width="1.4"/>
<rect x="318.40" y="80.20" width="9.20" height="9.20" fill="#fff" stroke="#5aa5e0" stroke-width="1.4"/>
<rect x="322.20" y="84.70" width="9.20" height="9.20" fill="#fff" stroke="#5aa5e0" stroke-width="1.4"/>
<rect x="325.80" y="89.40" width="9.20" height="9.20" fill="#fff" stroke="#5aa5e0" stroke-width="1.4"/>
<rect x="350.80" y="94.20" width="9.20" height="9.20" fill="#fff" stroke="#5aa5e0" stroke-width="1.4"/>
<rect x="362.20" y="98.60" width="9.20" height="9.20" fill="#fff" stroke="#5aa5e0" stroke-width="1.4"/>
<rect x="366.10" y="102.90" width="9.20" height="9.20" fill="#fff" stroke="#5aa5e0" stroke-width="1.4"/>
<rect x="369.20" y="107.50" width="9.20" height="9.20" fill="#fff" stroke="#5aa5e0" stroke-width="1.4"/>
<rect x="373.00" y="112.10" width="9.20" height="9.20" fill="#fff" stroke="#5aa5e0" stroke-width="1.4"/>
<rect x="376.90" y="121.30" width="9.20" height="9.20" fill="#fff" stroke="#5aa5e0" stroke-width="1.4"/>
<rect x="387.60" y="125.10" width="9.20" height="9.20" fill="#fff" stroke="#5aa5e0" stroke-width="1.4"/>
<rect x="393.70" y="130.20" width="9.20" height="9.20" fill="#fff" stroke="#5aa5e0" stroke-width="1.4"/>
<rect x="398.30" y="134.20" width="9.20" height="9.20" fill="#fff" stroke="#5aa5e0" stroke-width="1.4"/>
<rect x="401.30" y="143.30" width="9.20" height="9.20" fill="#fff" stroke="#5aa5e0" stroke-width="1.4"/>
<rect x="405.90" y="151.90" width="9.20" height="9.20" fill="#fff" stroke="#5aa5e0" stroke-width="1.4"/>
<rect x="412.70" y="161.90" width="9.20" height="9.20" fill="#fff" stroke="#5aa5e0" stroke-width="1.4"/>
<rect x="496.00" y="161.90" width="9.20" height="9.20" fill="#fff" stroke="#5aa5e0" stroke-width="1.4"/>
<path d="M283.60,29.60 H303.80 V48.10 H310.20 V50.30 H316.30 V88.00 H330.30 V92.50 H333.80 V96.80 H341.40 V101.30 H362.30 V105.80 H366.30 V110.00 H370.40 V115.20 H377.70 V124.50 H381.00 V132.70 H385.00 V137.90 H399.30 V142.40 H403.00 V151.20 H413.60 V159.40 H420.80 V164.90 H431.60 V169.60 H474.60" fill="none" stroke="#8a7cc0" stroke-width="1.3"/>
<circle cx="303.80" cy="48.10" r="4.2" fill="#fff" stroke="#8a7cc0" stroke-width="1.3"/>
<circle cx="310.20" cy="50.30" r="4.2" fill="#fff" stroke="#8a7cc0" stroke-width="1.3"/>
<circle cx="316.30" cy="88.00" r="4.2" fill="#fff" stroke="#8a7cc0" stroke-width="1.3"/>
<circle cx="330.30" cy="92.50" r="4.2" fill="#fff" stroke="#8a7cc0" stroke-width="1.3"/>
<circle cx="333.80" cy="96.80" r="4.2" fill="#fff" stroke="#8a7cc0" stroke-width="1.3"/>
<circle cx="341.40" cy="101.30" r="4.2" fill="#fff" stroke="#8a7cc0" stroke-width="1.3"/>
<circle cx="362.30" cy="105.80" r="4.2" fill="#fff" stroke="#8a7cc0" stroke-width="1.3"/>
<circle cx="366.30" cy="110.00" r="4.2" fill="#fff" stroke="#8a7cc0" stroke-width="1.3"/>
<circle cx="370.40" cy="115.20" r="4.2" fill="#fff" stroke="#8a7cc0" stroke-width="1.3"/>
<circle cx="377.70" cy="124.50" r="4.2" fill="#fff" stroke="#8a7cc0" stroke-width="1.3"/>
<circle cx="381.00" cy="132.70" r="4.2" fill="#fff" stroke="#8a7cc0" stroke-width="1.3"/>
<circle cx="385.00" cy="137.90" r="4.2" fill="#fff" stroke="#8a7cc0" stroke-width="1.3"/>
<circle cx="399.30" cy="142.40" r="4.2" fill="#fff" stroke="#8a7cc0" stroke-width="1.3"/>
<circle cx="403.00" cy="151.20" r="4.2" fill="#fff" stroke="#8a7cc0" stroke-width="1.3"/>
<circle cx="413.60" cy="159.40" r="4.2" fill="#fff" stroke="#8a7cc0" stroke-width="1.3"/>
<circle cx="420.80" cy="164.90" r="4.2" fill="#fff" stroke="#8a7cc0" stroke-width="1.3"/>
<circle cx="431.60" cy="169.60" r="4.2" fill="#fff" stroke="#8a7cc0" stroke-width="1.3"/>
<circle cx="474.60" cy="173.80" r="4.2" fill="#fff" stroke="#8a7cc0" stroke-width="1.3"/>
<path d="M283.60,27.90 H305.20 V41.20 H309.30 V54.00 H312.90 V59.60 H316.10 V68.70 H362.90 V73.50 H366.30 V77.50 H377.30 V82.10 H380.80 V86.70 H392.00 V92.30 H395.50 V96.00 H403.10 V110.00 H406.50 V114.00 H410.00 V127.30 H417.50 V136.00 H424.30 V140.60 H431.50 V145.20 H442.50 V149.80 H457.20 V154.40 H460.60 V163.80 H500.60" fill="none" stroke="#6aa845" stroke-width="1.3"/>
<circle cx="305.20" cy="41.20" r="4.8" fill="#6aa845"/>
<circle cx="309.30" cy="54.00" r="4.8" fill="#6aa845"/>
<circle cx="312.90" cy="59.60" r="4.8" fill="#6aa845"/>
<circle cx="316.10" cy="68.70" r="4.8" fill="#6aa845"/>
<circle cx="362.90" cy="73.50" r="4.8" fill="#6aa845"/>
<circle cx="366.30" cy="77.50" r="4.8" fill="#6aa845"/>
<circle cx="377.30" cy="82.10" r="4.8" fill="#6aa845"/>
<circle cx="380.80" cy="86.70" r="4.8" fill="#6aa845"/>
<circle cx="392.00" cy="92.30" r="4.8" fill="#6aa845"/>
<circle cx="395.50" cy="96.00" r="4.8" fill="#6aa845"/>
<circle cx="403.10" cy="110.00" r="4.8" fill="#6aa845"/>
<circle cx="406.50" cy="114.00" r="4.8" fill="#6aa845"/>
<circle cx="410.00" cy="127.30" r="4.8" fill="#6aa845"/>
<circle cx="417.50" cy="136.00" r="4.8" fill="#6aa845"/>
<circle cx="424.30" cy="140.60" r="4.8" fill="#6aa845"/>
<circle cx="431.50" cy="145.20" r="4.8" fill="#6aa845"/>
<circle cx="442.50" cy="149.80" r="4.8" fill="#6aa845"/>
<circle cx="457.20" cy="154.40" r="4.8" fill="#6aa845"/>
<circle cx="460.60" cy="163.80" r="4.8" fill="#6aa845"/>
<circle cx="500.60" cy="163.80" r="4.8" fill="#6aa845"/>
<path d="M283.60,29.60 H305.20 V57.40 H308.80 V80.30 H312.30 V89.10 H316.10 V103.00 H319.30 V107.00 H326.80 V116.50 H330.40 V120.60 H337.70 V134.00 H348.30 V138.50 H362.50 V143.00 H366.30 V147.50 H374.20 V152.50 H388.60 V156.60 H406.60 V162.40 H409.70 V167.00 H420.80 V175.80" fill="none" stroke="#2b4880" stroke-width="1.3"/>
<polygon points="305.20,52.70 309.90,60.90 300.50,60.90" fill="#2b4880"/>
<polygon points="308.80,75.60 313.50,83.80 304.10,83.80" fill="#2b4880"/>
<polygon points="312.30,84.40 317.00,92.60 307.60,92.60" fill="#2b4880"/>
<polygon points="316.10,98.30 320.80,106.50 311.40,106.50" fill="#2b4880"/>
<polygon points="319.30,102.30 324.00,110.50 314.60,110.50" fill="#2b4880"/>
<polygon points="326.80,111.80 331.50,120.00 322.10,120.00" fill="#2b4880"/>
<polygon points="330.40,115.90 335.10,124.10 325.70,124.10" fill="#2b4880"/>
<polygon points="337.70,129.30 342.40,137.50 333.00,137.50" fill="#2b4880"/>
<polygon points="348.30,133.80 353.00,142.00 343.60,142.00" fill="#2b4880"/>
<polygon points="362.50,138.30 367.20,146.50 357.80,146.50" fill="#2b4880"/>
<polygon points="366.30,142.80 371.00,151.00 361.60,151.00" fill="#2b4880"/>
<polygon points="374.20,147.80 378.90,156.00 369.50,156.00" fill="#2b4880"/>
<polygon points="388.60,151.90 393.30,160.10 383.90,160.10" fill="#2b4880"/>
<polygon points="406.60,157.70 411.30,165.90 401.90,165.90" fill="#2b4880"/>
<polygon points="409.70,162.30 414.40,170.50 405.00,170.50" fill="#2b4880"/>
<polygon points="420.80,171.10 425.50,179.30 416.10,179.30" fill="#2b4880"/>
<line x1="283.60" y1="29.60" x2="500.60" y2="29.60" stroke="#a50028" stroke-width="1.3"/>
<rect x="496.00" y="24.80" width="9.40" height="9.40" fill="#a50028" stroke="none" stroke-width="0"/>
<line x1="274.90" y1="219.90" x2="295.70" y2="219.90" stroke="#a50028" stroke-width="1.3"/>
<rect x="280.60" y="215.20" width="9.40" height="9.40" fill="#a50028" stroke="none" stroke-width="0"/>
<text x="299.40" y="222.50" font-size="8.9" text-anchor="start" font-weight="normal" fill="#000" color="#000" textLength="12.1" lengthAdjust="spacingAndGlyphs" >BM</text>
<line x1="274.90" y1="234.60" x2="295.70" y2="234.60" stroke="#2b4880" stroke-width="1.3"/>
<polygon points="285.30,229.90 290.00,238.10 280.60,238.10" fill="#2b4880"/>
<text x="299.40" y="237.20" font-size="8.9" text-anchor="start" font-weight="normal" fill="#000" color="#000" textLength="17.7" lengthAdjust="spacingAndGlyphs" >WTC</text>
<line x1="327.40" y1="219.90" x2="348.20" y2="219.90" stroke="#6aa845" stroke-width="1.3"/>
<circle cx="337.80" cy="219.90" r="4.8" fill="#6aa845"/>
<text x="351.90" y="222.50" font-size="8.9" text-anchor="start" font-weight="normal" fill="#000" color="#000" textLength="41.2" lengthAdjust="spacingAndGlyphs" >MDSC-IL13</text>
<line x1="327.40" y1="234.60" x2="348.20" y2="234.60" stroke="#8a7cc0" stroke-width="1.3"/>
<circle cx="337.80" cy="234.60" r="4.2" fill="#fff" stroke="#8a7cc0" stroke-width="1.3"/>
<text x="351.90" y="237.20" font-size="8.9" text-anchor="start" font-weight="normal" fill="#000" color="#000" textLength="32.0" lengthAdjust="spacingAndGlyphs" >MCC950</text>
<line x1="403.80" y1="219.90" x2="424.60" y2="219.90" stroke="#5aa5e0" stroke-width="1.3"/>
<rect x="409.60" y="215.30" width="9.20" height="9.20" fill="#fff" stroke="#5aa5e0" stroke-width="1.4"/>
<text x="428.30" y="222.50" font-size="8.9" text-anchor="start" font-weight="normal" fill="#000" color="#000" textLength="83.6" lengthAdjust="spacingAndGlyphs" >MCC950 + MDSC-IL13</text>
<line x1="283.60" y1="275.00" x2="283.60" y2="423.20" stroke="#000" stroke-width="1.35"/>
<line x1="283.00" y1="422.60" x2="507.00" y2="422.60" stroke="#000" stroke-width="1.45"/>
<line x1="280.20" y1="422.60" x2="283.60" y2="422.60" stroke="#000" stroke-width="1.0"/>
<text x="277.00" y="424.95" font-size="9.5" text-anchor="end" font-weight="normal" fill="#111" color="#111" textLength="4.6" lengthAdjust="spacingAndGlyphs" >0</text>
<line x1="282.00" y1="408.17" x2="283.60" y2="408.17" stroke="#000" stroke-width="1.0"/>
<line x1="280.20" y1="393.74" x2="283.60" y2="393.74" stroke="#000" stroke-width="1.0"/>
<text x="277.00" y="396.09" font-size="9.5" text-anchor="end" font-weight="normal" fill="#111" color="#111" textLength="9.4" lengthAdjust="spacingAndGlyphs" >20</text>
<line x1="282.00" y1="379.31" x2="283.60" y2="379.31" stroke="#000" stroke-width="1.0"/>
<line x1="280.20" y1="364.88" x2="283.60" y2="364.88" stroke="#000" stroke-width="1.0"/>
<text x="277.00" y="367.23" font-size="9.5" text-anchor="end" font-weight="normal" fill="#111" color="#111" textLength="9.4" lengthAdjust="spacingAndGlyphs" >40</text>
<line x1="282.00" y1="350.45" x2="283.60" y2="350.45" stroke="#000" stroke-width="1.0"/>
<line x1="280.20" y1="336.02" x2="283.60" y2="336.02" stroke="#000" stroke-width="1.0"/>
<text x="277.00" y="338.37" font-size="9.5" text-anchor="end" font-weight="normal" fill="#111" color="#111" textLength="9.4" lengthAdjust="spacingAndGlyphs" >60</text>
<line x1="282.00" y1="321.59" x2="283.60" y2="321.59" stroke="#000" stroke-width="1.0"/>
<line x1="280.20" y1="307.16" x2="283.60" y2="307.16" stroke="#000" stroke-width="1.0"/>
<text x="277.00" y="309.51" font-size="9.5" text-anchor="end" font-weight="normal" fill="#111" color="#111" textLength="9.4" lengthAdjust="spacingAndGlyphs" >80</text>
<line x1="282.00" y1="292.73" x2="283.60" y2="292.73" stroke="#000" stroke-width="1.0"/>
<line x1="280.20" y1="278.30" x2="283.60" y2="278.30" stroke="#000" stroke-width="1.0"/>
<text x="277.00" y="280.65" font-size="9.5" text-anchor="end" font-weight="normal" fill="#111" color="#111" textLength="13.8" lengthAdjust="spacingAndGlyphs" >100</text>
<line x1="283.90" y1="422.60" x2="283.90" y2="426.00" stroke="#000" stroke-width="1.0"/>
<text x="283.90" y="436.70" font-size="9.4" text-anchor="middle" font-weight="normal" fill="#111" color="#111" textLength="4.6" lengthAdjust="spacingAndGlyphs" >0</text>
<line x1="357.15" y1="422.60" x2="357.15" y2="426.00" stroke="#000" stroke-width="1.0"/>
<text x="357.15" y="436.70" font-size="9.4" text-anchor="middle" font-weight="normal" fill="#111" color="#111" textLength="9.6" lengthAdjust="spacingAndGlyphs" >20</text>
<line x1="430.40" y1="422.60" x2="430.40" y2="426.00" stroke="#000" stroke-width="1.0"/>
<text x="430.40" y="436.70" font-size="9.4" text-anchor="middle" font-weight="normal" fill="#111" color="#111" textLength="9.6" lengthAdjust="spacingAndGlyphs" >40</text>
<line x1="503.65" y1="422.60" x2="503.65" y2="426.00" stroke="#000" stroke-width="1.0"/>
<text x="503.65" y="436.70" font-size="9.4" text-anchor="middle" font-weight="normal" fill="#111" color="#111" textLength="9.6" lengthAdjust="spacingAndGlyphs" >60</text>
<text x="395.50" y="451.30" font-size="10.8" text-anchor="middle" font-weight="normal" fill="#111" color="#111" textLength="13.6" lengthAdjust="spacingAndGlyphs" >Day</text>
<text x="256.10" y="349.00" font-size="10.0" text-anchor="middle" font-weight="normal" fill="#111" color="#111" transform="rotate(-90 256.10 349.00)" textLength="37.4" lengthAdjust="spacingAndGlyphs" >% survival</text>
<text x="247.40" y="267.10" font-size="12.8" text-anchor="start" font-weight="bold" fill="#000" color="#000" >E</text>
<path d="M283.60,278.40 H313.00 V292.80 H378.70 V307.30 H404.50 V321.60 H411.70 V350.40 H422.70 V365.20 H433.70 V379.50 H444.60 V393.90 H469.00 V408.30 H478.00 V422.60" fill="none" stroke="#e0931c" stroke-width="1.3"/>
<rect x="308.40" y="288.20" width="9.20" height="9.20" fill="#fff" stroke="#e0931c" stroke-width="1.4"/>
<rect x="374.10" y="302.70" width="9.20" height="9.20" fill="#fff" stroke="#e0931c" stroke-width="1.4"/>
<rect x="399.90" y="317.00" width="9.20" height="9.20" fill="#fff" stroke="#e0931c" stroke-width="1.4"/>
<rect x="407.10" y="345.80" width="9.20" height="9.20" fill="#fff" stroke="#e0931c" stroke-width="1.4"/>
<rect x="418.10" y="360.60" width="9.20" height="9.20" fill="#fff" stroke="#e0931c" stroke-width="1.4"/>
<rect x="429.10" y="374.90" width="9.20" height="9.20" fill="#fff" stroke="#e0931c" stroke-width="1.4"/>
<rect x="440.00" y="389.30" width="9.20" height="9.20" fill="#fff" stroke="#e0931c" stroke-width="1.4"/>
<rect x="464.40" y="403.70" width="9.20" height="9.20" fill="#fff" stroke="#e0931c" stroke-width="1.4"/>
<rect x="473.40" y="418.00" width="9.20" height="9.20" fill="#fff" stroke="#e0931c" stroke-width="1.4"/>
<path d="M283.60,278.40 H309.00 V293.10 H316.30 V336.00 H360.30 V350.60 H367.50 V365.00 H371.50 V379.40 H386.20 V394.00 H470.70 V422.60" fill="none" stroke="#5f3c19" stroke-width="1.3"/>
<circle cx="309.00" cy="293.10" r="4.2" fill="#fff" stroke="#5f3c19" stroke-width="1.3"/>
<circle cx="316.30" cy="336.00" r="4.2" fill="#fff" stroke="#5f3c19" stroke-width="1.3"/>
<circle cx="360.30" cy="350.60" r="4.2" fill="#fff" stroke="#5f3c19" stroke-width="1.3"/>
<circle cx="367.50" cy="365.00" r="4.2" fill="#fff" stroke="#5f3c19" stroke-width="1.3"/>
<circle cx="371.50" cy="379.40" r="4.2" fill="#fff" stroke="#5f3c19" stroke-width="1.3"/>
<circle cx="386.20" cy="394.00" r="4.2" fill="#fff" stroke="#5f3c19" stroke-width="1.3"/>
<circle cx="470.70" cy="422.60" r="4.2" fill="#fff" stroke="#5f3c19" stroke-width="1.3"/>
<path d="M283.60,278.40 H309.40 V293.10 H312.80 V307.50 H371.50 V336.20 H378.80 V350.40 H393.50 V364.80 H481.80 V379.40" fill="none" stroke="#6aa845" stroke-width="1.3"/>
<circle cx="309.40" cy="293.10" r="4.8" fill="#6aa845"/>
<circle cx="312.80" cy="307.50" r="4.8" fill="#6aa845"/>
<circle cx="371.50" cy="336.20" r="4.8" fill="#6aa845"/>
<circle cx="378.80" cy="350.40" r="4.8" fill="#6aa845"/>
<circle cx="393.50" cy="364.80" r="4.8" fill="#6aa845"/>
<circle cx="481.80" cy="379.40" r="4.8" fill="#6aa845"/>
<circle cx="486.00" cy="379.40" r="4.8" fill="#6aa845"/>
<path d="M283.60,278.40 H305.20 V308.50 H309.00 V337.20 H312.50 V366.00 H316.30 V408.50 H382.50 V422.60" fill="none" stroke="#2b4880" stroke-width="1.3"/>
<polygon points="305.20,303.80 309.90,312.00 300.50,312.00" fill="#2b4880"/>
<polygon points="309.00,332.50 313.70,340.70 304.30,340.70" fill="#2b4880"/>
<polygon points="312.50,361.30 317.20,369.50 307.80,369.50" fill="#2b4880"/>
<polygon points="316.30,403.80 321.00,412.00 311.60,412.00" fill="#2b4880"/>
<polygon points="382.50,417.90 387.20,426.10 377.80,426.10" fill="#2b4880"/>
<line x1="283.60" y1="278.40" x2="485.50" y2="278.40" stroke="#a50028" stroke-width="1.3"/>
<rect x="480.80" y="273.60" width="9.40" height="9.40" fill="#a50028" stroke="none" stroke-width="0"/>
<line x1="284.20" y1="468.50" x2="305.00" y2="468.50" stroke="#a50028" stroke-width="1.3"/>
<rect x="289.90" y="463.80" width="9.40" height="9.40" fill="#a50028" stroke="none" stroke-width="0"/>
<text x="308.70" y="471.10" font-size="8.9" text-anchor="start" font-weight="normal" fill="#000" color="#000" textLength="12.2" lengthAdjust="spacingAndGlyphs" >BM</text>
<line x1="284.20" y1="483.00" x2="305.00" y2="483.00" stroke="#2b4880" stroke-width="1.3"/>
<polygon points="294.60,478.30 299.30,486.50 289.90,486.50" fill="#2b4880"/>
<text x="308.70" y="485.60" font-size="8.9" text-anchor="start" font-weight="normal" fill="#000" color="#000" textLength="18.4" lengthAdjust="spacingAndGlyphs" >WTC</text>
<line x1="336.00" y1="468.50" x2="356.80" y2="468.50" stroke="#6aa845" stroke-width="1.3"/>
<circle cx="346.40" cy="468.50" r="4.8" fill="#6aa845"/>
<text x="360.50" y="471.10" font-size="8.9" text-anchor="start" font-weight="normal" fill="#000" color="#000" textLength="41.9" lengthAdjust="spacingAndGlyphs" >MDSC-IL13</text>
<line x1="336.00" y1="483.00" x2="356.80" y2="483.00" stroke="#5f3c19" stroke-width="1.3"/>
<circle cx="346.40" cy="483.00" r="4.2" fill="#fff" stroke="#5f3c19" stroke-width="1.3"/>
<text x="360.50" y="485.60" font-size="8.9" text-anchor="start" font-weight="normal" fill="#000" color="#000" textLength="18.1" lengthAdjust="spacingAndGlyphs" >ICTA</text>
<line x1="413.00" y1="468.50" x2="433.80" y2="468.50" stroke="#e0931c" stroke-width="1.3"/>
<rect x="418.80" y="463.90" width="9.20" height="9.20" fill="#fff" stroke="#e0931c" stroke-width="1.4"/>
<text x="436.50" y="471.10" font-size="8.9" text-anchor="start" font-weight="normal" fill="#000" color="#000" textLength="69.4" lengthAdjust="spacingAndGlyphs" >MDSC-IL13 + ICTA</text>
<rect x="0.75" y="0.75" width="518.5" height="541.5" fill="none" stroke="#000" stroke-width="1.5"/>
</svg>
</body></html>
